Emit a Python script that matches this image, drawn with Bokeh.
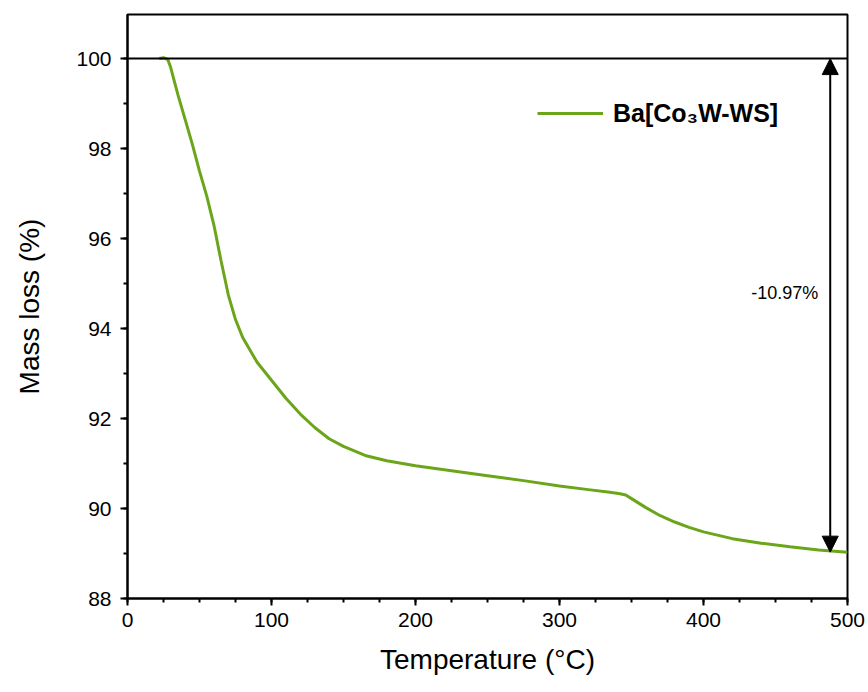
from bokeh.plotting import figure
from bokeh.models import Range1d, Span, Arrow, NormalHead, Label, Legend, LegendItem, FixedTicker
from bokeh.embed import file_html
from bokeh.resources import INLINE

temperature = [22, 25, 28, 30, 35, 40, 45, 50, 55, 60, 65, 70, 75, 80, 90, 100, 110, 120, 130, 140,
               150, 165, 180, 200, 225, 250, 275, 300, 320, 335, 342, 346, 350, 355, 360, 370, 380,
               390, 400, 420, 440, 460, 480, 500]
mass = [100.0, 100.02, 99.98, 99.8, 99.2, 98.65, 98.1, 97.5, 96.95, 96.3, 95.5, 94.75, 94.2, 93.8,
        93.25, 92.85, 92.45, 92.1, 91.8, 91.55, 91.38, 91.18, 91.06, 90.95, 90.84, 90.73, 90.62,
        90.5, 90.42, 90.36, 90.33, 90.3, 90.22, 90.12, 90.02, 89.84, 89.7, 89.58, 89.48, 89.33,
        89.23, 89.15, 89.08, 89.03]
series_name = "Ba[Co\u2083W-WS]"
x_ticks = [0, 100, 200, 300, 400, 500]
y_ticks = [88, 90, 92, 94, 96, 98, 100]
ref_level = 100.0
final_level = 89.03
arrow_x = 488
loss_label = "-10.97%"

FONT = "Liberation Sans"
GREEN = "#6BA51A"

p = figure(width=868, height=692, output_backend="svg", toolbar_location=None,
           x_range=Range1d(0, 500), y_range=Range1d(88, 100.98),
           min_border_left=127, min_border_right=21, min_border_top=14, min_border_bottom=94)
p.xgrid.visible = False
p.ygrid.visible = False
p.outline_line_color = "black"
p.outline_line_width = 2
p.background_fill_color = "white"
p.border_fill_color = "white"

for ax in (p.xaxis[0], p.yaxis[0]):
    ax.axis_line_width = 2
    ax.major_tick_line_width = 2
    ax.minor_tick_line_width = 2
    ax.major_tick_out = 7
    ax.major_tick_in = 0
    ax.minor_tick_out = 4
    ax.minor_tick_in = 0
    ax.major_label_text_font = FONT
    ax.major_label_text_font_size = "21px"
    ax.major_label_text_color = "black"
    ax.axis_label_text_font = FONT
    ax.axis_label_text_font_size = "28px"
    ax.axis_label_text_font_style = "normal"
    ax.axis_label_text_color = "black"

p.xaxis.ticker = FixedTicker(ticks=x_ticks, minor_ticks=list(range(0, 501, 25)))
p.yaxis.ticker = FixedTicker(ticks=y_ticks, minor_ticks=list(range(88, 101, 1)))
p.xaxis.axis_label = "Temperature (\u00b0C)"
p.yaxis.axis_label = "Mass loss (%)"
p.xaxis.major_label_standoff = 7
p.yaxis.major_label_standoff = 9
p.xaxis.axis_label_standoff = 14
p.yaxis.axis_label_standoff = 28

p.add_layout(Span(location=ref_level, dimension="width", line_color="black", line_width=2))

r = p.line(temperature, mass, line_color=GREEN, line_width=3)

p.add_layout(Arrow(x_start=arrow_x, y_start=ref_level, x_end=arrow_x, y_end=final_level,
                   line_color="black", line_width=2,
                   start=NormalHead(size=16, fill_color="black", line_color="black", line_width=1),
                   end=NormalHead(size=16, fill_color="black", line_color="black", line_width=1)))

p.add_layout(Label(x=arrow_x, y=94.78, text=loss_label, x_offset=-12, text_align="right",
                   text_baseline="middle", text_font=FONT, text_font_size="18px", text_color="black"))

legend = Legend(items=[LegendItem(label=series_name, renderers=[r])],
                location=(410, 470), glyph_width=66, glyph_height=30, label_standoff=10,
                label_text_font=FONT, label_text_font_size="25px", label_text_font_style="bold",
                label_text_color="black",
                border_line_color=None, background_fill_alpha=0, padding=0, margin=0)
p.add_layout(legend)

open("out.html", "w").write(file_html(p, INLINE))
